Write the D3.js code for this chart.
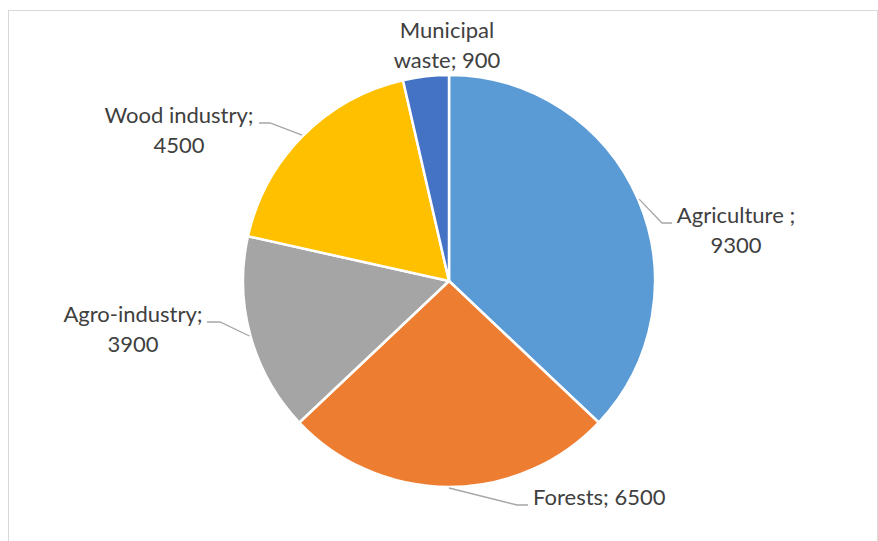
<!DOCTYPE html>
<html>
<head>
<meta charset="utf-8">
<script src="https://cdn.jsdelivr.net/npm/d3@7"></script>
<style>
  html, body { margin: 0; padding: 0; background: #fff; }
  svg { display: block; }
  .lbl { font-family: Lato, "Open Sans", sans-serif; font-size: 22px; fill: #404040; }
</style>
</head>
<body>
<svg id="chart" width="878" height="541"></svg>
<script>
// Biomass sources (clockwise from 12 o'clock)
const categories = ["Agriculture ", "Forests", "Agro-industry", "Wood industry", "Municipal waste"];
const values = [9300, 6500, 3900, 4500, 900];
const colors = ["#5B9BD5", "#ED7D31", "#A5A5A5", "#FFC000", "#4472C4"];

// Label text lines per slice; {v} is replaced by the value
const labelLines = [
  ["Agriculture ;", "{v}"],
  ["Forests; {v}"],
  ["Agro-industry;", "{v}"],
  ["Wood industry;", "{v}"],
  ["Municipal", "waste; {v}"]
];

// Label placement: text anchor point, alignment and leader elbow
const labelLayout = [
  { x: 736, y: 223, anchor: "middle", elbow: [662, 223], end: [672, 223] },
  { x: 533, y: 505, anchor: "start",  elbow: [517, 505], end: [528, 505] },
  { x: 133, y: 322, anchor: "middle", elbow: [220, 322], end: [207, 322] },
  { x: 179, y: 123, anchor: "middle", elbow: [270, 123], end: [259, 123] },
  { x: 447, y: 38,  anchor: "middle", elbow: null, end: null }
];

const W = 878, H = 541;
const cx = 449, cy = 281, R = 206;
const lineH = 30;

const svg = d3.select("#chart");

// chart area frame
svg.append("rect")
  .attr("x", 8.5).attr("y", 10.5)
  .attr("width", 869).attr("height", 540)
  .attr("fill", "none").attr("stroke", "#D9D9D9").attr("stroke-width", 1);

const data = categories.map((c, i) => ({ name: c, value: values[i], color: colors[i], i }));

const pie = d3.pie().sort(null).value(d => d.value).startAngle(0).endAngle(2 * Math.PI);
const arcs = pie(data);

const arc = d3.arc().innerRadius(0).outerRadius(R);
const g = svg.append("g").attr("transform", `translate(${cx},${cy})`);

g.selectAll("path.slice")
  .data(arcs)
  .join("path")
  .attr("class", "slice")
  .attr("d", arc)
  .attr("fill", d => d.data.color)
  .attr("stroke", "#fff")
  .attr("stroke-width", 2.5)
  .attr("stroke-linejoin", "round");

// leader lines from the slice edge at its mid-angle
const edgeArc = d3.arc().innerRadius(R + 2).outerRadius(R + 2);
arcs.forEach(a => {
  const L = labelLayout[a.data.i];
  if (!L.elbow) return;
  const mid = (a.startAngle + a.endAngle) / 2;
  const px = cx + (R + 1) * Math.sin(mid);
  const py = cy - (R + 1) * Math.cos(mid);
  svg.append("polyline")
    .attr("points", [[px, py], L.elbow, L.end].map(p => p.join(",")).join(" "))
    .attr("fill", "none")
    .attr("stroke", "#A6A6A6")
    .attr("stroke-width", 1.3);
});

// data labels
arcs.forEach(a => {
  const L = labelLayout[a.data.i];
  const lines = labelLines[a.data.i].map(s => s.replace("{v}", a.data.value));
  const t = svg.append("text")
    .attr("class", "lbl")
    .attr("text-anchor", L.anchor);
  lines.forEach((s, k) => {
    t.append("tspan").attr("x", L.x).attr("y", L.y + k * lineH).text(s);
  });
});
</script>
</body>
</html>
